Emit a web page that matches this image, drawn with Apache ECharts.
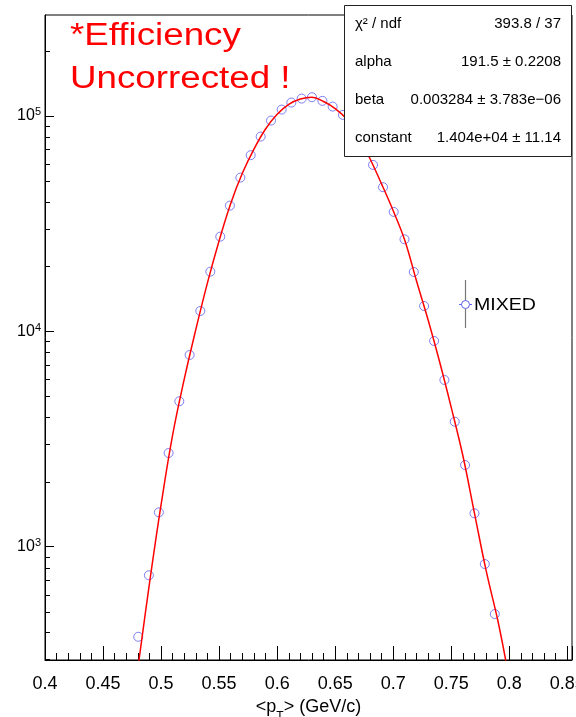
<!doctype html>
<html>
<head>
<meta charset="utf-8">
<script src="https://cdn.jsdelivr.net/npm/echarts@6/dist/echarts.min.js"></script>
</head>
<body style="margin:0">
<div id="main" style="width:576px;height:717px;"></div>
<script>
// measured <pT> points (MIXED)
var ptX = [0.4803, 0.4895, 0.4981, 0.5065, 0.5157, 0.5246, 0.5338, 0.5424, 0.5510, 0.5593,
  0.5683, 0.5772, 0.5858, 0.5947, 0.6039, 0.6122, 0.6211, 0.6300, 0.6390, 0.6478,
  0.6567, 0.6657, 0.6741, 0.6826, 0.6912, 0.7004, 0.7097, 0.7177, 0.7266, 0.7352,
  0.7441, 0.7530, 0.7619, 0.7700, 0.7789, 0.7875];
var ptY = [382, 737, 1444, 2723, 4734, 7768, 12430, 18920, 27510, 38320,
  51700, 65700, 80140, 95100, 106980, 115300, 120320, 122130, 117420, 110450,
  101070, 88900, 73340, 59230, 46670, 35840, 26750, 18860, 13110, 9020,
  5945, 3806, 2395, 1429, 831, 487];

// red fit curve
var fitX = [0.4805, 0.49, 0.50, 0.51, 0.52, 0.53, 0.54, 0.55, 0.56, 0.57, 0.58, 0.59, 0.60,
  0.61, 0.62, 0.63, 0.64, 0.65, 0.66, 0.67, 0.68, 0.69, 0.70, 0.71, 0.72, 0.73, 0.74,
  0.75, 0.76, 0.77, 0.78, 0.79, 0.797];
var fitY = [285, 676, 1567, 3311, 6010, 10230, 16830, 26340, 39240, 54130, 70090, 86900, 101760,
  113040, 119700, 122000, 116600, 108070, 96430, 80540, 63230, 48240, 36250, 26410, 17170, 11310, 7203,
  4424, 2644, 1429, 776, 457, 295];

var xMin = 0.4, xMax = 0.854;
var yMin = 298, yMax = 294000;
var yMinorTicks = [300, 400, 500, 600, 700, 800, 900,
  2000, 3000, 4000, 5000, 6000, 7000, 8000, 9000,
  20000, 30000, 40000, 50000, 60000, 70000, 80000, 90000, 200000];

var statNames = ['\u03c7\u00b2 / ndf', 'alpha', 'beta', 'constant'];
var statValues = ['393.8 / 37', '191.5 \u00b1 0.2208', '0.003284 \u00b1 3.783e\u221206', '1.404e+04 \u00b1 11.14'];

var FONT = '"Liberation Sans", Arial, Helvetica, sans-serif';
var chart = echarts.init(document.getElementById('main'));

var graphics = [
  { type: 'rect', z: 100, shape: { x: 344.5, y: 5.5, width: 227, height: 151 },
    style: { fill: '#fff', stroke: '#222', lineWidth: 1 } },
  { type: 'text', z: 101, x: 70, y: 36, scaleX: 1.185,
    style: { text: '*Efficiency', font: '31px ' + FONT, fill: '#ff0000', verticalAlign: 'middle' } },
  { type: 'text', z: 101, x: 70, y: 79, scaleX: 1.185,
    style: { text: 'Uncorrected !', font: '31px ' + FONT, fill: '#ff0000', verticalAlign: 'middle' } },
  { type: 'line', z: 101, shape: { x1: 465.5, y1: 280, x2: 465.5, y2: 328 },
    style: { stroke: '#777', lineWidth: 1.2 } },
  { type: 'line', z: 101, shape: { x1: 459, y1: 304.5, x2: 472, y2: 304.5 },
    style: { stroke: '#6060f0', lineWidth: 1 } },
  { type: 'circle', z: 102, shape: { cx: 465.5, cy: 304.5, r: 4 },
    style: { fill: '#fff', stroke: '#6060f0', lineWidth: 1 } },
  { type: 'text', z: 101, x: 474, y: 305, scaleX: 1.15,
    style: { text: 'MIXED', font: '17px ' + FONT, fill: '#000', verticalAlign: 'middle' } }
];
var rowY = [24, 62, 100, 138];
for (var i = 0; i < statNames.length; i++) {
  graphics.push({ type: 'text', z: 101,
    style: { text: statNames[i], x: 355, y: rowY[i], font: '15px ' + FONT, fill: '#000', verticalAlign: 'middle' } });
  graphics.push({ type: 'text', z: 101,
    style: { text: statValues[i], x: 561, y: rowY[i], font: '15px ' + FONT, fill: '#000', align: 'right', verticalAlign: 'middle' } });
}

chart.setOption({
  animation: false,
  backgroundColor: '#fff',
  textStyle: { fontFamily: FONT },
  grid: { left: 45, right: 4, top: 15, bottom: 57, show: true, borderColor: '#000', borderWidth: 1,
    containLabel: false, outerBoundsMode: 'none' },
  xAxis: {
    type: 'value', min: xMin, max: xMax, interval: 0.05,
    name: '<p{sub|T}> (GeV/c)', nameLocation: 'middle', nameGap: 24,
    nameTextStyle: { color: '#000', fontSize: 18, fontFamily: FONT,
      rich: { sub: { fontSize: 12, fontFamily: FONT, color: '#000', verticalAlign: 'bottom', padding: [20, 0, 0, 0] } } },
    axisLine: { lineStyle: { color: '#000', width: 1 } },
    axisTick: { inside: true, length: 14, lineStyle: { color: '#000' } },
    minorTick: { show: true, splitNumber: 5, length: 7, lineStyle: { color: '#000' } },
    splitLine: { show: false },
    axisLabel: { color: '#000', fontSize: 18, margin: 15, showMaxLabel: false,
      formatter: function (v) { return String(+v.toFixed(2)); } }
  },
  yAxis: {
    type: 'log', logBase: 10, min: yMin, max: yMax,
    axisLine: { lineStyle: { color: '#000', width: 1 } },
    axisTick: { inside: true, length: 9, lineStyle: { color: '#000' } },
    splitLine: { show: false },
    axisLabel: { color: '#000', margin: 4, showMinLabel: false, showMaxLabel: false,
      formatter: function (v) { return '{b|10}{s|' + Math.round(Math.log10(v)) + '}'; },
      rich: { b: { fontSize: 16, fontFamily: FONT, color: '#000' },
              s: { fontSize: 11, fontFamily: FONT, color: '#000', verticalAlign: 'top', padding: [0, 0, 7, 0] } } }
  },
  series: [
    { type: 'scatter', name: 'MIXED', z: 2, symbol: 'circle', symbolSize: 9,
      itemStyle: { color: 'rgba(0,0,0,0)', borderColor: '#6060f0', borderWidth: 1 },
      data: ptX.map(function (x, i) { return [x, ptY[i]]; }) },
    { type: 'line', name: 'fit', z: 3, smooth: 0.4, showSymbol: false,
      lineStyle: { color: '#ff0000', width: 1.5 },
      data: fitX.map(function (x, i) { return [x, fitY[i]]; }) },
    { type: 'custom', z: 4, silent: true, clip: false,
      data: yMinorTicks.map(function (v) { return [xMin, v]; }),
      renderItem: function (params, api) {
        var p = api.coord([api.value(0), api.value(1)]);
        var y = Math.round(p[1]) + 0.5;
        return { type: 'line', shape: { x1: p[0], y1: y, x2: p[0] + 5, y2: y },
          style: { stroke: '#000', lineWidth: 1 } };
      } }
  ],
  graphic: { elements: graphics }
});
</script>
</body>
</html>
